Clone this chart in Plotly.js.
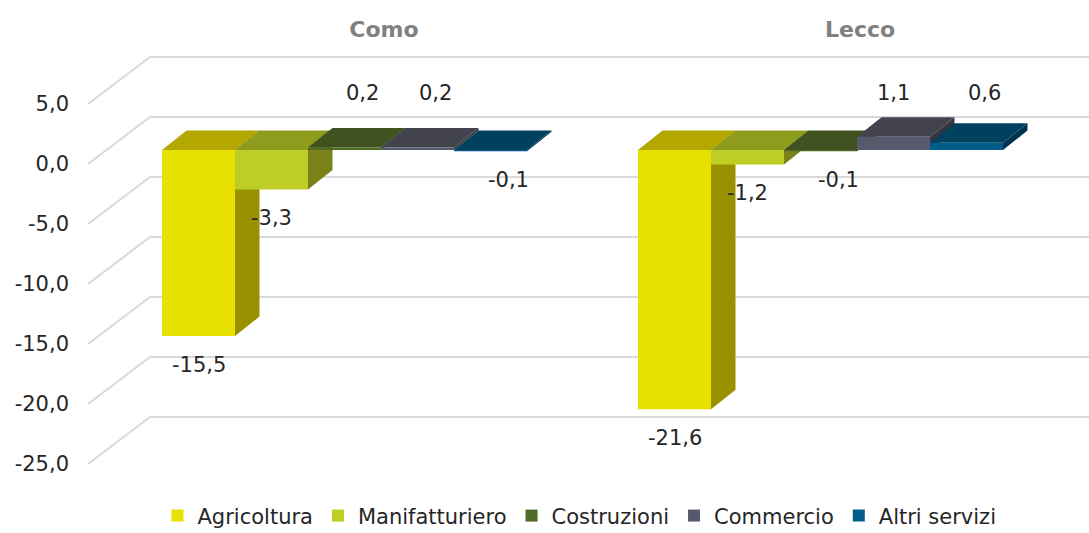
<!DOCTYPE html>
<html><head><meta charset="utf-8">
<script src="https://cdn.plot.ly/plotly-3.0.1.min.js"></script>
<style>html,body{margin:0;padding:0;background:#fff}#chart{width:1089px;height:533px}</style>
</head><body><div id="chart"></div>
<script>
// ---- data ----
const categories = ['Como', 'Lecco'];
const seriesNames = ['Agricoltura', 'Manifatturiero', 'Costruzioni', 'Commercio', 'Altri servizi'];
const agricoltura = [-15.5, -21.6];
const manifatturiero = [-3.3, -1.2];
const costruzioni = [0.2, -0.1];
const commercio = [0.2, 1.1];
const altriServizi = [-0.1, 0.6];
const yTicks = [-25, -20, -15, -10, -5, 0, 5];

// ---- styles ----
const values = [agricoltura, manifatturiero, costruzioni, commercio, altriServizi];
const frontColors = ['#E8E000', '#BFCE24', '#4F6A24', '#575A6C', '#005C8A'];
const topColors = ['#B4A800', '#8E9C1E', '#3F5220', '#42434F', '#00415F'];
const sideColors = ['#999100', '#7B8219', '#324219', '#35363F', '#00344E'];
const FONT = 'DejaVu Sans';

// geometry (pixel-based layout constants)
const L = 70, R = 1089, T = 42, B = 480;
const pxPerX = 476, pxPerY = 12;
const zeroPxX = 344.5, zeroPxY = 150;
const xr = [-(zeroPxX - L) / pxPerX, (R - zeroPxX) / pxPerX];
const yr = [-(B - zeroPxY) / pxPerY, (zeroPxY - T) / pxPerY];
const groupW = 0.7668, barW = groupW / seriesNames.length;
const dX = 24.5 / pxPerX, dY = 19.5 / pxPerY;
const backShift = (zeroPxY - 117) / pxPerY;
const frontShift = (zeroPxY - 164) / pxPerY;
const px2paper = p => (p - L) / (R - L);
const titleShift = 39.5 / pxPerX;
const fmt = v => v.toFixed(1).replace('.', ',');
const catPos = categories.map((_, i) => i);

const shapes = [];
// perspective gridlines
yTicks.forEach(t => {
  shapes.push({type: 'line', xref: 'paper', yref: 'y', layer: 'below',
    x0: px2paper(88), y0: t + frontShift, x1: px2paper(150), y1: t + backShift,
    line: {color: '#D9D9D9', width: 2}});
  shapes.push({type: 'line', xref: 'paper', yref: 'y', layer: 'below',
    x0: px2paper(150), y0: t + backShift, x1: 1, y1: t + backShift,
    line: {color: '#D9D9D9', width: 2}});
});
// 3D faces (side + top) of each bar, painter's order left to right
catPos.forEach(c => {
  seriesNames.forEach((_, i) => {
    const v = values[i][c];
    const xl = c - groupW / 2 + i * barW, xrr = xl + barW;
    const top = Math.max(v, 0), bot = Math.min(v, 0);
    shapes.push({type: 'path', xref: 'x', yref: 'y', layer: 'below',
      path: `M${xrr},${bot} L${xrr + dX},${bot + dY} L${xrr + dX},${top + dY} L${xrr},${top} Z`,
      fillcolor: sideColors[i], line: {width: 0}});
    shapes.push({type: 'path', xref: 'x', yref: 'y', layer: 'below',
      path: `M${xl},${top} L${xrr},${top} L${xrr + dX},${top + dY} L${xl + dX},${top + dY} Z`,
      fillcolor: topColors[i], line: {width: 0}});
  });
});

// data labels
const annotations = [];
catPos.forEach(c => {
  seriesNames.forEach((_, i) => {
    const v = values[i][c];
    const xc = c - groupW / 2 + (i + 0.5) * barW;
    annotations.push({xref: 'x', yref: 'y', x: xc, y: v < 0 ? v - 2.4 : 4.75,
      xshift: Math.abs(v) < 1 ? 18 : 0,
      text: fmt(v), showarrow: false, font: {family: FONT, size: 21, color: '#262626'}});
  });
});

const traces = seriesNames.map((name, i) => ({
  type: 'bar', name: name, x: catPos, y: values[i],
  width: barW, offset: -groupW / 2 + i * barW,
  marker: {color: frontColors[i], line: {width: 0}},
  hoverinfo: 'skip'
}));
traces.push({type: 'scatter', x: [null], y: [null], xaxis: 'x2', yaxis: 'y2',
  showlegend: false, hoverinfo: 'skip', mode: 'markers'});

const layout = {
  width: 1089, height: 533,
  margin: {l: L, r: 1089 - R, t: T, b: 533 - B, pad: 0, autoexpand: false},
  paper_bgcolor: '#fff', plot_bgcolor: 'rgba(0,0,0,0)',
  barmode: 'overlay',
  showlegend: true,
  xaxis: {range: xr, showgrid: false, zeroline: false, showticklabels: false, showline: false, fixedrange: true, automargin: false},
  yaxis: {range: yr, showgrid: false, zeroline: false, showticklabels: false, showline: false, fixedrange: true, automargin: false},
  xaxis2: {overlaying: 'x', side: 'top', anchor: 'y', range: [xr[0] - titleShift, xr[1] - titleShift],
    tickvals: catPos, ticktext: categories, showgrid: false, zeroline: false, showline: false, ticks: '', automargin: false,
    tickfont: {family: FONT, size: 22, color: '#808080', weight: 'bold'}},
  yaxis2: {overlaying: 'y', side: 'left', anchor: 'x', range: [yr[0] - frontShift, yr[1] - frontShift],
    tickvals: yTicks, ticktext: yTicks.map(fmt), showgrid: false, zeroline: false, showline: false, ticks: '', automargin: false,
    tickfont: {family: FONT, size: 21, color: '#262626'}},
  legend: {orientation: 'h', x: 0.5, xanchor: 'center', y: -0.082, yanchor: 'middle',
    font: {family: FONT, size: 21, color: '#262626'}, bgcolor: 'rgba(0,0,0,0)'},
  shapes: shapes,
  annotations: annotations
};

Plotly.newPlot('chart', traces, layout, {displayModeBar: false, staticPlot: true});
</script>
</body></html>
